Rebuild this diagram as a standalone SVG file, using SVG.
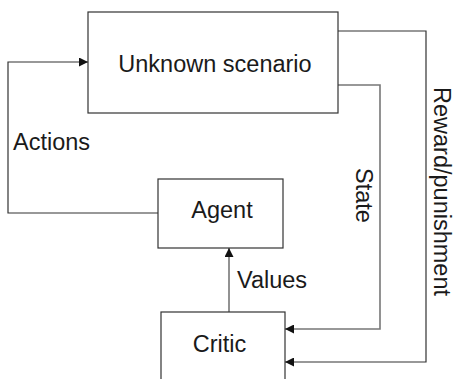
<svg xmlns="http://www.w3.org/2000/svg" width="459" height="379" viewBox="0 0 459 379">
<style>
.box{fill:#fff;stroke:#333;stroke-width:1.2}
.lbl{font-family:"Liberation Sans",Arial,sans-serif;font-size:23.5px;fill:#1a1a1a}
.c{text-anchor:middle}
.ln{fill:none;stroke:#333;stroke-width:1.2}
.lg{fill:none;stroke:#777;stroke-width:1.6}
</style>
<defs>
<marker id="ah" viewBox="0 0 10 10" refX="10" refY="5" markerWidth="9" markerHeight="9" markerUnits="userSpaceOnUse" orient="auto">
<path d="M0,0 L10,5 L0,10 z" fill="#111"/>
</marker>
</defs>
<rect width="459" height="379" fill="#fff"/>
<g id="connectors">
<polyline class="ln" points="158,213 8,213 8,62 88,62" marker-end="url(#ah)"/>
<polyline class="lg" points="229,312 229,248" marker-end="url(#ah)"/>
<polyline class="lg" points="338,85 380,85 380,329 285,329" marker-end="url(#ah)"/>
<polyline class="ln" points="338,31 426,31 426,362 285,362" marker-end="url(#ah)"/>
<text class="lbl" x="13" y="150">Actions</text>
<text class="lbl" x="237" y="288">Values</text>
<text class="lbl" transform="translate(356,168) rotate(90)">State</text>
<text class="lbl" transform="translate(434,87) rotate(90)">Reward/punishment</text>
</g>
<g id="scenario">
<rect class="box" x="88" y="12" width="250" height="101"/>
<text class="lbl c" x="215" y="72">Unknown scenario</text>
</g>
<g id="agent">
<rect class="box" x="158" y="179" width="125" height="69"/>
<text class="lbl c" x="222" y="218">Agent</text>
</g>
<g id="critic">
<rect class="box" x="161" y="312" width="124" height="90"/>
<text class="lbl c" x="219.5" y="352">Critic</text>
</g>
</svg>
